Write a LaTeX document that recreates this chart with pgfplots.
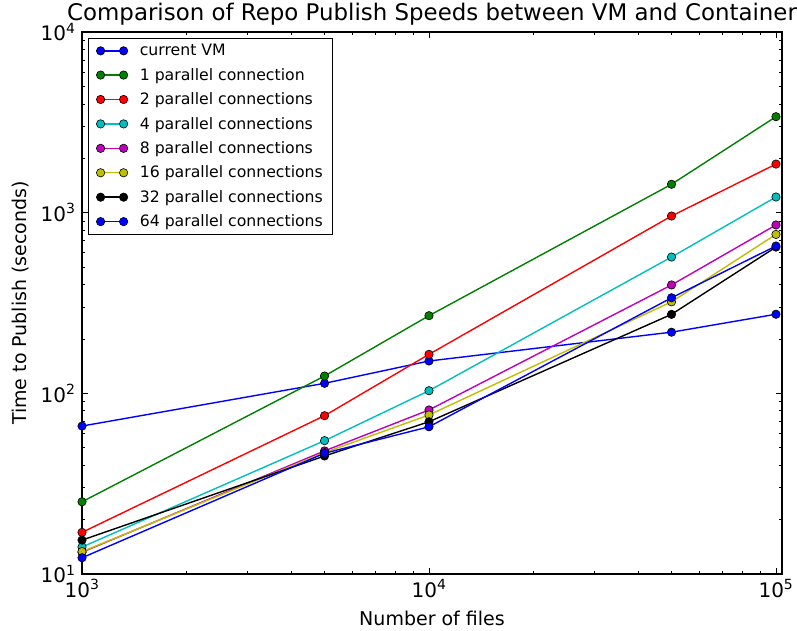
\documentclass[border=0pt]{standalone}
\usepackage{fontspec}
\setmainfont{DejaVu Sans}
\usepackage{pgfplots}
\pgfplotsset{compat=1.18}
\definecolor{mb}{rgb}{0,0,1}
\definecolor{mg}{rgb}{0,0.5,0}
\definecolor{mr}{rgb}{1,0,0}
\definecolor{mc}{rgb}{0,0.75,0.75}
\definecolor{mm}{rgb}{0.75,0,0.75}
\definecolor{my}{rgb}{0.75,0.75,0}
\definecolor{mk}{rgb}{0,0,0}
\begin{document}
\begin{tikzpicture}[x=1pt,y=1pt]
\path[use as bounding box] (0,0) rectangle (797,631);
\begin{axis}[
  at={(82pt,57pt)}, anchor=south west,
  scale only axis, width=700pt, height=542pt,
  xmode=log, ymode=log,
  xmin=1000, xmax=104100, ymin=10, ymax=10000,
  axis line style={line width=1.2pt},
  tick align=inside,
  major tick length=5.6pt, minor tick length=2.8pt,
  every tick/.style={black, line width=0.7pt},
  xtick={1000,10000,100000},
  ytick={10,100,1000,10000},
  xticklabel={\pgfmathparse{int(round(\tick/2.302585))}10\textsuperscript{\pgfmathresult}},
  yticklabel={\pgfmathparse{int(round(\tick/2.302585))}10\textsuperscript{\pgfmathresult}},
  ticklabel style={font=\fontsize{20}{24}\selectfont},
  xticklabel style={yshift=-2pt},
  yticklabel style={xshift=-3pt},
  title={Comparison of Repo Publish Speeds between VM and Container},
  title style={at={(axis description cs:0.5,1)}, anchor=base, yshift=5pt, font=\fontsize{22.9}{27}\selectfont, inner sep=0pt},
  xlabel={Number of files},
  ylabel={Time to Publish (seconds)},
  xlabel style={at={(axis description cs:0.5,0)}, anchor=base, yshift=-52pt, font=\fontsize{19}{23}\selectfont, inner sep=0pt},
  ylabel style={at={(axis description cs:-0.0786,0.5)}, anchor=base, font=\fontsize{19}{23}\selectfont, inner sep=0pt},
  clip=true,
  legend style={at={(axis description cs:0,1)}, anchor=north west, xshift=6pt, yshift=-6pt,
    draw=black, line width=0.8pt, font=\fontsize{15.7}{18}\selectfont, row sep=7pt,
    inner xsep=8pt, inner ysep=4pt,
    /tikz/every odd column/.append style={column sep=10pt}},
  legend cell align=left,
  legend image code/.code={\draw[#1] plot coordinates {(0pt,0pt) (23pt,0pt)};},
  every axis plot/.append style={line width=1.4pt, mark=*, mark size=4.2pt},
]
\addplot[mb, mark options={fill=mb, draw=black, line width=0.6pt}] coordinates {(1000,65.9) (5000,113.6) (10000,151) (50000,218) (100000,274)};
\addlegendentry{current VM}
\addplot[mg, mark options={fill=mg, draw=black, line width=0.6pt}] coordinates {(1000,25.1) (5000,124.7) (10000,269) (50000,1436) (100000,3398)};
\addlegendentry{1 parallel connection}
\addplot[mr, mark options={fill=mr, draw=black, line width=0.6pt}] coordinates {(1000,17.0) (5000,75.2) (10000,164.4) (50000,958) (100000,1858)};
\addlegendentry{2 parallel connections}
\addplot[mc, mark options={fill=mc, draw=black, line width=0.6pt}] coordinates {(1000,14.1) (5000,54.7) (10000,103.4) (50000,568) (100000,1221)};
\addlegendentry{4 parallel connections}
\addplot[mm, mark options={fill=mm, draw=black, line width=0.6pt}] coordinates {(1000,13.2) (5000,48) (10000,80.9) (50000,398) (100000,855)};
\addlegendentry{8 parallel connections}
\addplot[my, mark options={fill=my, draw=black, line width=0.6pt}] coordinates {(1000,13.3) (5000,47) (10000,75.9) (50000,321) (100000,758)};
\addlegendentry{16 parallel connections}
\addplot[mk, mark options={fill=mk, draw=black, line width=0.6pt}] coordinates {(1000,15.4) (5000,45) (10000,69.6) (50000,273.6) (100000,645)};
\addlegendentry{32 parallel connections}
\addplot[mb, mark options={fill=mb, draw=black, line width=0.6pt}] coordinates {(1000,12.3) (5000,46.6) (10000,65.3) (50000,338) (100000,654)};
\addlegendentry{64 parallel connections}
\end{axis}
\end{tikzpicture}
\end{document}
